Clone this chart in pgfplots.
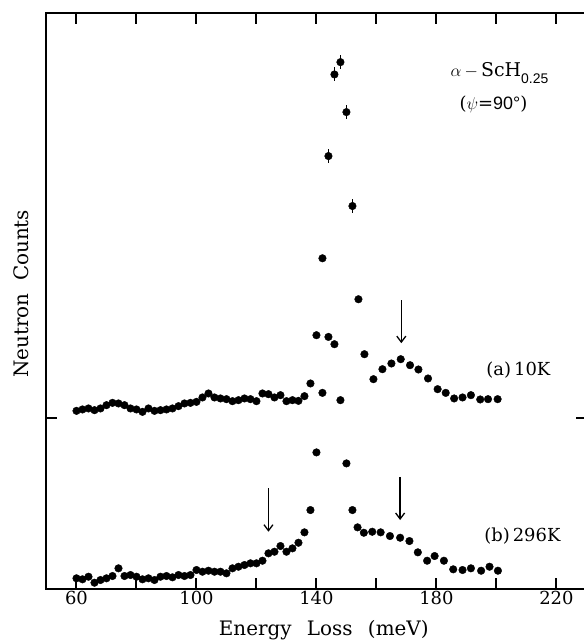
\documentclass[border=0pt]{standalone}
\usepackage{fontspec}
\setmainfont{DejaVu Serif}
\newfontfamily\hv{Liberation Sans}
\usepackage{pgfplots}
\pgfplotsset{compat=1.18}
\usetikzlibrary{arrows.meta}

% spectrum (a) 10 K, (b) 296 K; y in arbitrary units (counts, offset)
\pgfplotstableread{
x y
60 177.3
62 178.7
64 179.7
66 178
68 179.7
70 183
72 185.3
74 184.7
76 183
78 179.7
80 178.7
82 176.3
84 179.7
86 177.3
88 178
90 178.7
92 179.7
94 182
96 184.7
98 185.3
100 186.3
102 190.7
104 194.7
106 190.7
108 189.7
110 189
112 187
114 188
116 189.7
118 189
120 187
122 194.7
124 194
126 190.7
128 193
130 187
132 188
134 187.3
136 192
138 204.7
140 253
142 330
154 289
156 234
159 209
162 219
165 224.7
168.1 229
171.2 223
174 218.7
177.2 209.7
180.4 199
183.1 195.3
185.9 189.7
188.7 190.7
191.5 193
194.6 188.7
197.2 189
200.4 189
}\lowT
\pgfplotstableread{
x y
144 432.3
146 514
148 526.3
150 476.3
152 382.3
}\lowTpeak
\pgfplotstableread{
x y
60 9.7
62 8.7
64 11.3
66 5.3
68 8
70 9.7
72 12
74 19.7
76 12
78 13
80 11.3
82 8.7
84 9.7
86 8
88 11.3
90 12
92 10.7
94 13
96 12
98 13
100 18
102 16.3
104 17.3
106 16.3
108 16.3
110 14.7
112 19.7
114 21.3
116 23
118 24.7
120 24.7
122 27.3
124 34.7
126 36.3
128 42
130 36.3
132 39.7
134 45.3
136 55.7
138 78
140 135.7
142 195.3
144 251.3
146 244
148 188
150 124.7
152 78
153.7 60.7
155.8 55.3
158.6 56.3
161.4 55.7
164.5 52
167.9 50.3
171 47
173.8 35.7
176.9 27.3
179.4 32
182.5 27.3
185.6 18.7
188.7 18
191.5 19.7
194.9 17.3
197.7 21.3
200.5 17.3
}\roomT

\begin{document}
\begin{tikzpicture}
\begin{axis}[
  name=ax,
  scale only axis, width=540.5bp, height=575.5bp,
  xmin=50, xmax=230.2, ymin=-1, ymax=575,
  axis line style={line width=2bp},
  xtick={60,100,140,180,220}, minor xtick={80,120,160,200},
  ytick={170}, yticklabels={},
  major tick length=11bp, minor tick length=11bp,
  tick style={black, line width=2bp},
  tick label style={font=\fontsize{18}{20}\selectfont},
  /pgf/number format/assume math mode=true,
  xticklabel style={inner sep=0pt, yshift=-1.5bp},
  xlabel={Energy\hspace{9bp} Loss\hspace{9bp} (meV)},
  xlabel style={font=\fontsize{20}{22}\selectfont, at={(axis description cs:0.513,0)}, anchor=base, yshift=-46bp},
  ylabel={Neutron\hspace{6bp} Counts},
  ylabel style={font=\fontsize{20}{22}\selectfont, at={(axis description cs:-0.0342,0.513)}, anchor=base},
  clip=false,
]
\addplot[only marks, mark=*, mark size=3.8bp, black] table {\lowT};
\addplot[only marks, mark=*, mark size=3.8bp, black,
  error bars/.cd, y dir=both, y fixed=7, error mark=none,
  error bar style={line width=1.6bp}] table {\lowTpeak};
\addplot[only marks, mark=*, mark size=3.8bp, black] table {\roomT};

% arrows
\draw[line width=1.3bp, -{Straight Barb[length=6bp,width=9bp]}] (axis cs:168.3,288) -- (axis cs:168.3,245);
\draw[line width=1.3bp, -{Straight Barb[length=6bp,width=9bp]}] (axis cs:124,99.7) -- (axis cs:124,56.3);
\draw[line width=1.3bp, -{Straight Barb[length=6bp,width=9bp]}] (axis cs:167.9,111.3) -- (axis cs:167.9,68);

% labels
\node[anchor=base, font=\fontsize{19}{22}\selectfont] at (axis cs:201,512)
  {$\alpha$\,$-$\,ScH\raisebox{-7bp}{\hv\fontsize{14}{14}\selectfont 0.25}};
\node[anchor=base, font=\fontsize{18}{22}\selectfont] at (axis cs:199,478.7)
  {($\psi$={\hv 90°})};
\node[anchor=base west, font=\fontsize{18}{22}\selectfont] at (axis cs:195.5,213) {(a)\,10K};
\node[anchor=base west, font=\fontsize{18}{22}\selectfont] at (axis cs:194.8,46.3) {(b)\,296K};
\end{axis}
\pgfresetboundingbox
\path[use as bounding box] ([shift={(-46.5bp,-51bp)}]ax.south west) rectangle ([shift={(537.5bp,13.5bp)}]ax.north west);
\end{tikzpicture}
\end{document}
